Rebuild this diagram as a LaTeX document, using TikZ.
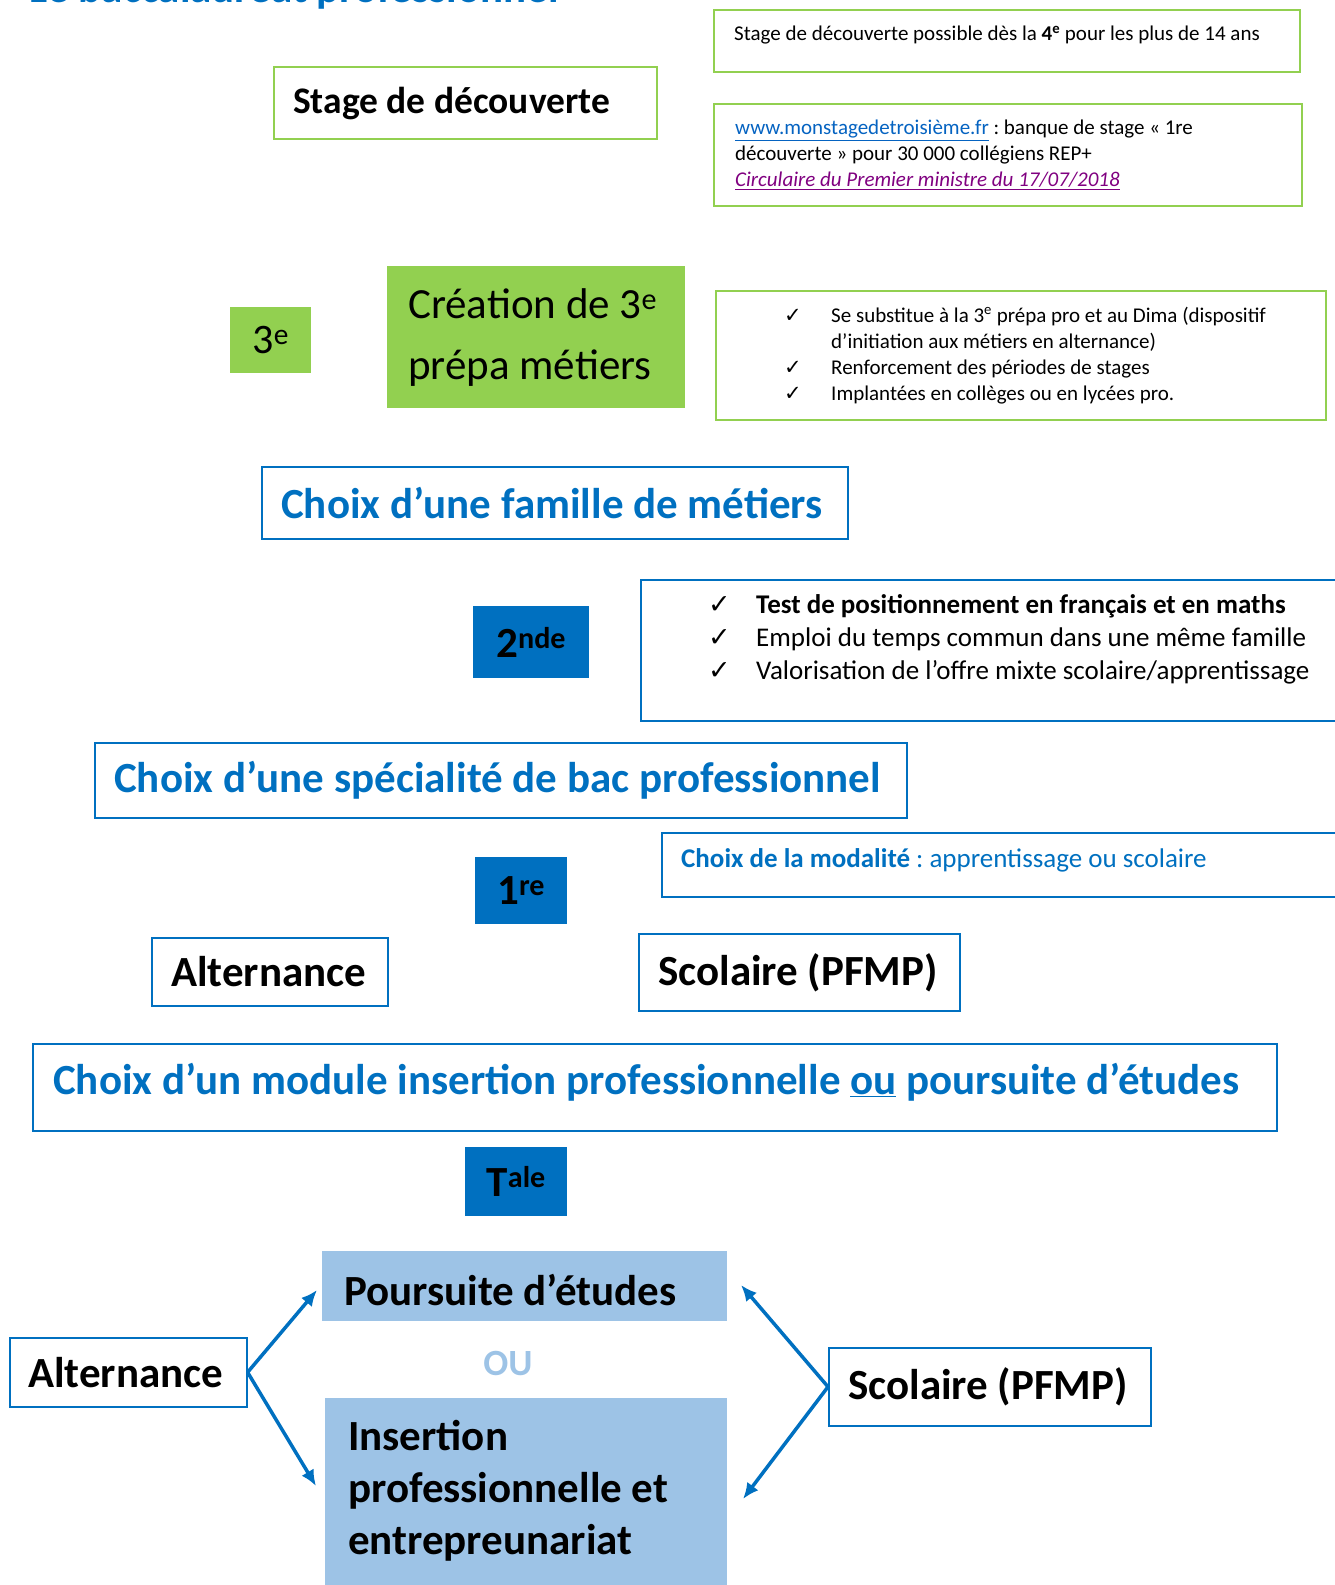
\documentclass[tikz,border=0pt]{standalone}
\usepackage{fontspec}
\setmainfont{Carlito}
\newfontfamily\symfont{DejaVu Sans}
\frenchspacing
\usetikzlibrary{arrows.meta, positioning}
\definecolor{mGreen}{HTML}{92D050}
\definecolor{mBlue}{HTML}{0070C0}
\definecolor{mLight}{HTML}{9DC3E6}
\definecolor{mLink}{HTML}{0563C1}
\definecolor{mVisited}{HTML}{800080}
\tikzset{
    greenFrame/.style={draw=mGreen, line width=2pt, anchor=north west, inner sep=0pt},
    blueFrame/.style={draw=mBlue, line width=1.6pt, anchor=north west, inner sep=0pt},
    greenLevel/.style={fill=mGreen, anchor=north west, inner sep=0pt},
    blueLevel/.style={fill=mBlue, anchor=north west, inner sep=0pt},
    lightBox/.style={fill=mLight, anchor=north west, inner sep=0pt},
    boxText/.style={inner sep=0pt, align=left, anchor=west},
    branchArrow/.style={->, >={Latex[length=16pt, width=14pt]}, draw=mBlue, line width=3.5pt},
}
\newcommand{\bigBold}{\fontsize{43}{52}\selectfont\bfseries}
\newcommand{\smallText}{\fontsize{21}{26}\selectfont}
\newcommand{\midText}{\fontsize{27}{33}\selectfont}
\newcommand{\chk}[1]{\makebox[#1][l]{\symfont ✓}}

\begin{document}
\begin{tikzpicture}[x=1pt, y=-1pt]
    \useasboundingbox (0,0) rectangle (1335,1585);

    % titre, coupé par le bord
    \node[anchor=base west, inner sep=0pt, font=\bigBold, text=mBlue] (titre) at (29,2) {Le baccalauréat professionnel};

    % stage de découverte
    \node[greenFrame, minimum width=383pt, minimum height=72pt] (stageBox) at (273,66) {};
    \node[boxText, font=\fontsize{37.5}{45}\selectfont\bfseries, right=20pt of stageBox.west, yshift=-1pt] (stageTxt) {Stage de découverte};
    \node[greenFrame, minimum width=586pt, minimum height=62pt] (stageInfo) at (713,9) {};
    \node[boxText, font=\smallText, right=21pt of stageInfo.west, yshift=6pt] (stageInfoTxt)
        {Stage de découverte possible dès la \textbf{4\textsuperscript{e}} pour les plus de 14 ans};
    \node[greenFrame, minimum width=588pt, minimum height=102pt] (stageLink) at (713,103) {};
    \node[boxText, font=\smallText, right=22pt of stageLink.west] (stageLinkTxt)
        {{\color{mLink}\underline{www.monstagedetroisième.fr}} : banque de stage « 1re\\
         découverte » pour 30 000 collégiens REP+\\
         {\color{mVisited}\itshape\underline{Circulaire du Premier ministre du 17/07/2018}}};

    % 3e
    \node[greenLevel, minimum width=81pt, minimum height=66pt, font=\fontsize{42}{50}\selectfont] (niveau3) at (230,307) {3\textsuperscript{e}};
    \node[greenLevel, minimum width=298pt, minimum height=142pt] (prepaBox) at (387,266) {};
    \node[boxText, font=\fontsize{43}{61}\selectfont, right=21pt of prepaBox.west] (prepaTxt)
        {Création de 3\textsuperscript{e}\\prépa métiers};
    \node[greenFrame, minimum width=610pt, minimum height=129pt] (prepaInfo) at (715,290) {};
    \node[boxText, font=\smallText, right=69pt of prepaInfo.west] (prepaInfoTxt)
        {\chk{47pt}Se substitue à la 3\textsuperscript{e} prépa pro et au Dima (dispositif\\
         \hspace*{47pt}d’initiation aux métiers en alternance)\\
         \chk{47pt}Renforcement des périodes de stages\\
         \chk{47pt}Implantées en collèges ou en lycées pro.};

    \node[blueFrame, minimum width=586pt, minimum height=72pt] (familleBox) at (261,466) {};
    \node[boxText, font=\bigBold, text=mBlue, right=20pt of familleBox.west] (familleTxt) {Choix d’une famille de métiers};

    % 2nde
    \node[blueLevel, minimum width=116pt, minimum height=72pt, font=\bigBold] (niveau2) at (473,606) {2\textsuperscript{nde}};
    \node[blueFrame, minimum width=720pt, minimum height=141pt] (secondeInfo) at (640,579) {};
    \node[boxText, font=\midText, right=68pt of secondeInfo.west, yshift=11pt] (secondeInfoTxt)
        {\chk{48pt}\textbf{Test de positionnement en français et en maths}\\
         \chk{48pt}Emploi du temps commun dans une même famille\\
         \chk{48pt}Valorisation de l’offre mixte scolaire/apprentissage};

    \node[blueFrame, minimum width=812pt, minimum height=75pt] (specialiteBox) at (94,742) {};
    \node[boxText, font=\bigBold, text=mBlue, right=20pt of specialiteBox.west] (specialiteTxt) {Choix d’une spécialité de bac professionnel};

    % 1re
    \node[blueLevel, minimum width=92pt, minimum height=67pt, font=\bigBold] (niveau1) at (475,857) {1\textsuperscript{re}};
    \node[blueFrame, minimum width=700pt, minimum height=64pt] (modaliteBox) at (661,832) {};
    \node[boxText, font=\midText, text=mBlue, right=20pt of modaliteBox.west, yshift=4pt] (modaliteTxt)
        {\textbf{Choix de la modalité} : apprentissage ou scolaire};
    \node[blueFrame, minimum width=236pt, minimum height=68pt] (alternanceA) at (151,937) {};
    \node[boxText, font=\bigBold, right=20pt of alternanceA.west] (alternanceATxt) {Alternance};
    \node[blueFrame, minimum width=321pt, minimum height=77pt] (scolaireA) at (638,933) {};
    \node[boxText, font=\bigBold, right=20pt of scolaireA.west] (scolaireATxt) {Scolaire (PFMP)};

    \node[blueFrame, minimum width=1244pt, minimum height=87pt] (moduleBox) at (32,1043) {};
    \node[boxText, font=\bigBold, text=mBlue, right=21pt of moduleBox.west, yshift=5pt] (moduleTxt)
        {Choix d’un module insertion professionnelle \underline{ou} poursuite d’études};

    % Tale
    \node[blueLevel, minimum width=102pt, minimum height=69pt, font=\bigBold] (niveauT) at (465,1147) {T\textsuperscript{ale}};
    \node[lightBox, minimum width=405pt, minimum height=70pt] (poursuiteBox) at (322,1251) {};
    \node[boxText, font=\bigBold, right=22pt of poursuiteBox.west, yshift=-4pt] (poursuiteTxt) {Poursuite d’études};
    \node[inner sep=0pt, font=\fontsize{37}{44}\selectfont\bfseries, text=mLight] (ouTxt) at (508,1363) {OU};
    \node[lightBox, minimum width=402pt, minimum height=200pt] (insertionBox) at (325,1398) {};
    \node[boxText, font=\bigBold, below right=22pt and 23pt of insertionBox.north west] (insertionTxt)
        {Insertion\\professionnelle et\\entrepreunariat};
    \node[blueFrame, minimum width=237pt, minimum height=69pt] (alternanceB) at (9,1337) {};
    \node[boxText, font=\bigBold, right=19pt of alternanceB.west] (alternanceBTxt) {Alternance};
    \node[blueFrame, minimum width=322pt, minimum height=78pt] (scolaireB) at (828,1347) {};
    \node[boxText, font=\bigBold, right=20pt of scolaireB.west] (scolaireBTxt) {Scolaire (PFMP)};

    \coordinate (tipPoursuiteL) at (317,1290);
    \coordinate (tipInsertionL) at (316,1486);
    \coordinate (tipPoursuiteR) at (741,1285);
    \coordinate (tipInsertionR) at (743,1499);
    \draw[branchArrow] (alternanceB.east) -- (tipPoursuiteL);
    \draw[branchArrow] (alternanceB.east) -- (tipInsertionL);
    \draw[branchArrow] (scolaireB.west) -- (tipPoursuiteR);
    \draw[branchArrow] (scolaireB.west) -- (tipInsertionR);

\end{tikzpicture}
\end{document}
